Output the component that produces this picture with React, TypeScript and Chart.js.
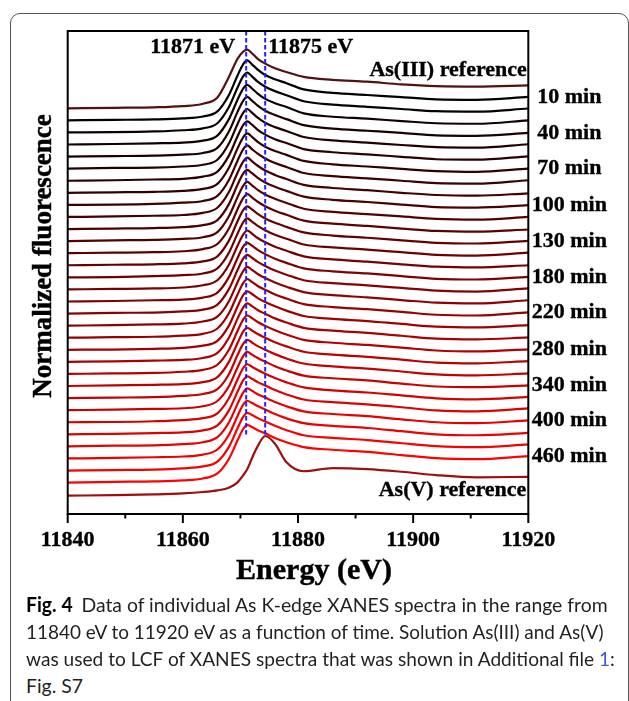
import React, { useEffect, useLayoutEffect, useRef } from 'react';
import { Chart, registerables } from 'chart.js';

Chart.register(...registerables);

// ---------- data ----------
const energy = [11840, 11848, 11855, 11860, 11863.5, 11866, 11868, 11869.5, 11870.5, 11871.2, 11872, 11873, 11874.3, 11876, 11878, 11881, 11886, 11892, 11898, 11904, 11911, 11920];

const asIII = [0.00, 0.02, 0.04, 0.09, 0.19, 0.45, 1.30, 2.05, 2.35, 2.43, 2.28, 2.05, 1.85, 1.66, 1.50, 1.30, 1.18, 1.10, 0.99, 0.92, 0.90, 0.95];
const asV = [0.00, 0.02, 0.05, 0.09, 0.15, 0.22, 0.33, 0.55, 0.85, 1.10, 1.55, 2.05, 2.47, 2.15, 1.38, 1.01, 1.14, 1.10, 0.99, 0.85, 0.76, 0.78];

const t01 = [0.00, 0.02, 0.04, 0.08, 0.16, 0.37, 1.05, 1.86, 2.33, 2.48, 2.32, 2.10, 1.88, 1.70, 1.54, 1.28, 1.14, 1.05, 0.96, 0.87, 0.85, 0.97];
const t02 = [0.00, 0.01, 0.04, 0.09, 0.17, 0.38, 1.05, 1.86, 2.33, 2.48, 2.32, 2.10, 1.89, 1.71, 1.54, 1.29, 1.15, 1.06, 0.97, 0.88, 0.86, 0.99];
const t03 = [0.00, 0.02, 0.05, 0.08, 0.16, 0.37, 1.05, 1.85, 2.32, 2.47, 2.32, 2.11, 1.89, 1.71, 1.55, 1.29, 1.15, 1.07, 0.97, 0.88, 0.86, 1.00];
const t04 = [0.00, 0.02, 0.04, 0.08, 0.15, 0.36, 1.04, 1.85, 2.32, 2.47, 2.32, 2.11, 1.90, 1.72, 1.55, 1.30, 1.16, 1.07, 0.98, 0.88, 0.86, 0.98];
const t05 = [0.00, 0.03, 0.04, 0.09, 0.16, 0.37, 1.04, 1.85, 2.32, 2.47, 2.32, 2.11, 1.90, 1.72, 1.56, 1.31, 1.17, 1.08, 0.98, 0.89, 0.87, 1.01];
const t06 = [0.00, 0.02, 0.05, 0.08, 0.17, 0.38, 1.04, 1.84, 2.31, 2.46, 2.32, 2.11, 1.91, 1.72, 1.56, 1.31, 1.18, 1.09, 0.99, 0.89, 0.87, 1.01];
const t07 = [0.00, 0.02, 0.04, 0.08, 0.16, 0.37, 1.04, 1.84, 2.31, 2.46, 2.32, 2.11, 1.91, 1.73, 1.57, 1.32, 1.18, 1.09, 0.99, 0.90, 0.87, 1.00];
const t08 = [0.00, 0.01, 0.04, 0.09, 0.16, 0.37, 1.03, 1.83, 2.31, 2.46, 2.31, 2.12, 1.92, 1.73, 1.57, 1.32, 1.19, 1.10, 1.00, 0.90, 0.88, 1.02];
const t09 = [0.00, 0.02, 0.05, 0.08, 0.17, 0.38, 1.03, 1.83, 2.30, 2.46, 2.31, 2.12, 1.92, 1.74, 1.57, 1.33, 1.20, 1.11, 1.00, 0.91, 0.88, 0.98];
const t10 = [0.00, 0.02, 0.04, 0.08, 0.16, 0.37, 1.03, 1.83, 2.30, 2.45, 2.31, 2.12, 1.93, 1.75, 1.58, 1.34, 1.21, 1.12, 1.01, 0.91, 0.89, 0.99];
const t11 = [0.00, 0.03, 0.05, 0.09, 0.16, 0.37, 1.03, 1.82, 2.30, 2.45, 2.31, 2.12, 1.93, 1.75, 1.58, 1.34, 1.21, 1.12, 1.02, 0.92, 0.89, 1.00];
const t12 = [0.00, 0.02, 0.04, 0.08, 0.17, 0.38, 1.02, 1.82, 2.29, 2.45, 2.31, 2.13, 1.94, 1.76, 1.59, 1.35, 1.22, 1.13, 1.02, 0.92, 0.89, 0.98];
const t13 = [0.00, 0.02, 0.04, 0.08, 0.16, 0.37, 1.02, 1.82, 2.29, 2.44, 2.31, 2.13, 1.94, 1.76, 1.59, 1.36, 1.23, 1.14, 1.03, 0.93, 0.90, 1.01];
const t14 = [0.00, 0.01, 0.05, 0.09, 0.16, 0.37, 1.02, 1.81, 2.29, 2.44, 2.31, 2.13, 1.95, 1.76, 1.60, 1.36, 1.24, 1.15, 1.04, 0.93, 0.90, 1.02];
const t15 = [0.00, 0.02, 0.04, 0.08, 0.17, 0.38, 1.02, 1.81, 2.28, 2.44, 2.31, 2.13, 1.95, 1.77, 1.60, 1.37, 1.24, 1.15, 1.04, 0.94, 0.91, 1.00];
const t16 = [0.00, 0.02, 0.05, 0.08, 0.16, 0.37, 1.01, 1.80, 2.28, 2.43, 2.31, 2.14, 1.96, 1.77, 1.60, 1.37, 1.25, 1.16, 1.05, 0.94, 0.91, 1.02];
const t17 = [0.00, 0.03, 0.04, 0.09, 0.16, 0.37, 1.01, 1.80, 2.28, 2.43, 2.31, 2.14, 1.97, 1.78, 1.61, 1.38, 1.26, 1.17, 1.06, 0.95, 0.91, 1.04];
const t18 = [0.00, 0.02, 0.05, 0.08, 0.17, 0.37, 1.01, 1.80, 2.27, 2.43, 2.31, 2.14, 1.97, 1.79, 1.61, 1.39, 1.26, 1.17, 1.06, 0.95, 0.92, 1.05];
const t19 = [0.00, 0.02, 0.04, 0.09, 0.16, 0.38, 1.01, 1.79, 2.27, 2.43, 2.31, 2.14, 1.98, 1.79, 1.62, 1.39, 1.27, 1.18, 1.07, 0.95, 0.92, 1.05];
const t20 = [0.00, 0.01, 0.04, 0.08, 0.17, 0.37, 1.00, 1.79, 2.27, 2.42, 2.31, 2.14, 1.98, 1.80, 1.62, 1.40, 1.28, 1.19, 1.07, 0.96, 0.93, 1.02];
const t21 = [0.00, 0.02, 0.05, 0.08, 0.16, 0.37, 1.00, 1.79, 2.26, 2.42, 2.31, 2.15, 1.99, 1.80, 1.63, 1.41, 1.29, 1.20, 1.08, 0.96, 0.93, 1.01];
const t22 = [0.00, 0.02, 0.04, 0.09, 0.17, 0.38, 1.00, 1.78, 2.26, 2.42, 2.31, 2.15, 1.99, 1.81, 1.63, 1.41, 1.29, 1.20, 1.09, 0.97, 0.93, 1.02];
const t23 = [0.00, 0.03, 0.05, 0.08, 0.16, 0.37, 1.00, 1.78, 2.26, 2.41, 2.30, 2.15, 2.00, 1.81, 1.64, 1.42, 1.30, 1.21, 1.09, 0.97, 0.94, 1.03];
const t24 = [0.00, 0.02, 0.04, 0.09, 0.17, 0.37, 0.99, 1.78, 2.25, 2.41, 2.30, 2.15, 2.00, 1.82, 1.64, 1.43, 1.31, 1.22, 1.10, 0.98, 0.94, 1.02];
const t25 = [0.00, 0.02, 0.05, 0.08, 0.16, 0.38, 0.99, 1.77, 2.25, 2.41, 2.30, 2.16, 2.01, 1.82, 1.64, 1.43, 1.32, 1.23, 1.10, 0.98, 0.95, 1.03];
const t26 = [0.00, 0.01, 0.04, 0.09, 0.17, 0.37, 0.99, 1.77, 2.25, 2.40, 2.30, 2.16, 2.01, 1.83, 1.65, 1.44, 1.32, 1.23, 1.11, 0.99, 0.95, 1.05];
const t27 = [0.00, 0.02, 0.05, 0.08, 0.16, 0.37, 0.99, 1.76, 2.24, 2.40, 2.30, 2.16, 2.02, 1.83, 1.65, 1.44, 1.33, 1.24, 1.12, 0.99, 0.95, 1.07];
const t28 = [0.00, 0.03, 0.04, 0.09, 0.17, 0.38, 0.99, 1.76, 2.24, 2.40, 2.30, 2.16, 2.02, 1.84, 1.66, 1.45, 1.34, 1.25, 1.12, 1.00, 0.96, 1.08];
const t29 = [0.00, 0.02, 0.05, 0.08, 0.16, 0.37, 0.98, 1.76, 2.24, 2.39, 2.30, 2.17, 2.03, 1.84, 1.66, 1.46, 1.35, 1.26, 1.13, 1.00, 0.96, 1.06];
const t30 = [0.00, 0.02, 0.04, 0.09, 0.17, 0.37, 0.98, 1.75, 2.23, 2.39, 2.30, 2.17, 2.03, 1.85, 1.67, 1.46, 1.35, 1.26, 1.13, 1.01, 0.97, 1.08];
const t31 = [0.00, 0.03, 0.05, 0.09, 0.17, 0.38, 0.98, 1.75, 2.23, 2.39, 2.30, 2.17, 2.04, 1.85, 1.67, 1.47, 1.36, 1.27, 1.14, 1.01, 0.97, 1.10];

const timeScans = [t01, t02, t03, t04, t05, t06, t07, t08, t09, t10, t11, t12, t13, t14, t15, t16, t17, t18, t19, t20, t21, t22, t23, t24, t25, t26, t27, t28, t29, t30, t31];
const timeLabels = ['10 min', '40 min', '70 min', '100 min', '130 min', '180 min', '220 min', '280 min', '340 min', '400 min', '460 min'];
const labelEvery = 3;

const edgeMarks = [11871, 11874.3];
const edgeMarkLabels = ['11871 eV', '11875 eV'];

const xMin = 11840;
const xMax = 11920;
const xMajor = 20;
const xMinor = 10;
const yMin = 0;
const yMax = 20;

// stacking offsets (normalized units)
const asVBase = 0.76;
const asVGap = 0.54;
const stackStep = 0.5;

// ---------- helpers ----------
const SERIF = '"Liberation Serif", "Times New Roman", serif';
const nScans = timeScans.length;
const scanBase = (i: number) => asVBase + asVGap + stackStep * (nScans - 1 - i);
const asIIIBase = scanBase(0) + stackStep;
const toPoints = (vals: number[], base: number) => energy.map((e, k) => ({ x: e, y: base + vals[k] }));
const scanColor = (i: number) => `rgb(${Math.round((255 * i) / (nScans - 1))},0,0)`;

function heavyText(ctx: CanvasRenderingContext2D, text: string, x: number, y: number) {
  ctx.fillText(text, x, y);
  ctx.strokeText(text, x, y);
}

const annotPlugin = {
  id: 'annot',
  afterDraw(chart: any) {
    const { ctx, chartArea: a, scales } = chart;
    const x = scales.x;
    const y = scales.y;
    ctx.save();
    // frame box
    ctx.strokeStyle = '#000';
    ctx.lineWidth = 2;
    ctx.strokeRect(a.left, a.top, a.right - a.left, a.bottom - a.top);
    // tick marks
    for (let e = xMin; e <= xMax; e += xMinor) {
      const px = x.getPixelForValue(e);
      const len = (e - xMin) % xMajor === 0 ? 9 : 4.5;
      ctx.beginPath();
      ctx.moveTo(px, a.bottom);
      ctx.lineTo(px, a.bottom + len);
      ctx.stroke();
    }
    ctx.fillStyle = '#000';
    ctx.strokeStyle = '#000';
    ctx.lineWidth = 0.35;
    ctx.textBaseline = 'middle';
    ctx.font = `bold 22px ${SERIF}`;
    // edge labels
    ctx.textAlign = 'right';
    heavyText(ctx, edgeMarkLabels[0], x.getPixelForValue(edgeMarks[0]) - 11, a.top + 16);
    ctx.textAlign = 'left';
    heavyText(ctx, edgeMarkLabels[1], x.getPixelForValue(edgeMarks[1]) + 3, a.top + 16);
    // references
    ctx.textAlign = 'right';
    heavyText(ctx, 'As(III) reference', a.right - 1.5, a.top + 39);
    heavyText(ctx, 'As(V) reference', a.right - 2, a.bottom - 24);
    // time labels
    ctx.textAlign = 'center';
    timeLabels.forEach((lab, j) => {
      const i = j * labelEvery;
      const vals = timeScans[i];
      const py = y.getPixelForValue(scanBase(i) + vals[vals.length - 1]);
      heavyText(ctx, lab, a.right + 41, py);
    });
    // x tick labels (from the scale's own ticks)
    ctx.textAlign = 'center';
    x.ticks.forEach((t: any) => {
      heavyText(ctx, String(t.value), x.getPixelForValue(t.value), a.bottom + 26);
    });
    // axis titles
    ctx.font = `bold 30px ${SERIF}`;
    ctx.lineWidth = 0.45;
    heavyText(ctx, 'Energy (eV)', 314, a.bottom + 57);
    ctx.save();
    ctx.translate(44, 256);
    ctx.rotate(-Math.PI / 2);
    ctx.font = `bold 27px ${SERIF}`;
    heavyText(ctx, 'Normalized fluorescence', 0, 0);
    ctx.restore();
    ctx.restore();
  },
};

function ChartCanvas() {
  const ref = useRef<HTMLCanvasElement | null>(null);
  useEffect(() => {
    if (!ref.current) return;
    const dashEnd = asVBase + Math.max(...asV);
    const datasets: any[] = [];
    edgeMarks.forEach((e) => {
      datasets.push({
        label: `${e}`,
        data: [{ x: e, y: yMax }, { x: e, y: dashEnd }],
        borderColor: '#1f1fff',
        borderWidth: 2,
        borderDash: [4.5, 2.5],
        pointRadius: 0,
        tension: 0,
      });
    });
    datasets.push({
      label: 'As(III) reference',
      data: toPoints(asIII, asIIIBase),
      borderColor: '#551010',
      borderWidth: 2.2,
      pointRadius: 0,
      cubicInterpolationMode: 'monotone',
    });
    timeScans.forEach((vals, i) => {
      datasets.push({
        label: `scan ${i + 1}`,
        data: toPoints(vals, scanBase(i)),
        borderColor: scanColor(i),
        borderWidth: 2.2,
        pointRadius: 0,
        cubicInterpolationMode: 'monotone',
      });
    });
    datasets.push({
      label: 'As(V) reference',
      data: toPoints(asV, asVBase),
      borderColor: '#a00d0d',
      borderWidth: 2.2,
      pointRadius: 0,
      cubicInterpolationMode: 'monotone',
    });

    const chart = new Chart(ref.current, {
      type: 'line',
      data: { datasets },
      options: {
        animation: false,
        responsive: false,
        devicePixelRatio: 1,
        layout: { padding: { left: 67.7, right: 100.7, top: 31, bottom: 0 } },
        plugins: { legend: { display: false }, tooltip: { enabled: false } },
        scales: {
          x: {
            type: 'linear',
            min: xMin,
            max: xMax,
            grid: { display: false, drawTicks: false },
            border: { display: false },
            ticks: {
              stepSize: xMajor,
              color: 'rgba(0,0,0,0)',
              padding: 13,
              maxRotation: 0,
              autoSkip: false,
              font: { family: SERIF, size: 22, weight: 'bold' },
              callback: (v: any) => String(v),
            },
            afterFit: (s: any) => {
              s.height = 86;
            },
          },
          y: { type: 'linear', display: false, min: yMin, max: yMax },
        },
      },
      plugins: [annotPlugin],
    } as any);
    return () => chart.destroy();
  }, []);
  return <canvas ref={ref} width={629} height={600} style={{ position: 'absolute', left: 0, top: 0 }} />;
}

const captionTargets = [607, 603, 614];

export default function App() {
  const lineRefs = useRef<(HTMLSpanElement | null)[]>([]);
  useLayoutEffect(() => {
    const left = 25.5;
    let firstScale = 1;
    lineRefs.current.forEach((el, k) => {
      if (!el) return;
      const w = el.offsetWidth;
      let s = firstScale;
      if (k < captionTargets.length && w > 0) s = (captionTargets[k] - left) / w;
      if (k === 0) firstScale = s;
      el.style.transform = `scaleX(${s})`;
    });
  }, []);

  const capStyle = (top: number): React.CSSProperties => ({
    position: 'absolute',
    left: 25.5,
    top,
    whiteSpace: 'nowrap',
    display: 'inline-block',
    transformOrigin: '0 0',
    fontFamily: 'Lato, "Open Sans", sans-serif',
    fontSize: 20,
    lineHeight: '24px',
    color: '#231f20',
  });

  return (
    <div style={{ position: 'fixed', left: 0, top: 0, width: 629, height: 701, overflow: 'hidden', background: '#fff' }}>
      <div
        style={{
          position: 'absolute',
          left: 9.5,
          top: 12.5,
          width: 619,
          height: 760,
          border: '1.5px solid #555',
          borderRadius: 10,
          boxSizing: 'border-box',
        }}
      />
      <ChartCanvas />
      <span ref={(el) => { lineRefs.current[0] = el; }} style={capStyle(592)}>
        <b style={{ color: '#000', marginRight: 9 }}>Fig. 4</b>Data of individual As K-edge XANES spectra in the range from
      </span>
      <span ref={(el) => { lineRefs.current[1] = el; }} style={capStyle(619)}>
        11840 eV to 11920 eV as a function of time. Solution As(III) and As(V)
      </span>
      <span ref={(el) => { lineRefs.current[2] = el; }} style={capStyle(646)}>
        was used to LCF of XANES spectra that was shown in Additional file <span style={{ color: '#4455dd' }}>1</span>:
      </span>
      <span ref={(el) => { lineRefs.current[3] = el; }} style={capStyle(673)}>
        Fig. S7
      </span>
    </div>
  );
}
